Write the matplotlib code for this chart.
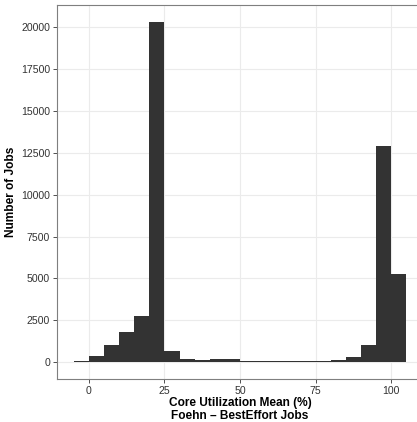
import numpy as np
import matplotlib
matplotlib.use("Agg")
import matplotlib.pyplot as plt

plt.rcParams['font.family'] = ['Liberation Sans', 'DejaVu Sans']

# histogram bins (left edges, width 5) and job counts
bin_left = [-5, 0, 5, 10, 15, 20, 25, 30, 35, 40, 45, 50,
            55, 60, 65, 70, 75, 80, 85, 90, 95, 100]
counts = [30, 360, 1020, 1810, 2760, 20350, 680, 180, 120, 170, 170, 80,
          70, 70, 70, 70, 70, 120, 300, 1020, 12900, 5270]
bin_width = 5

x_ticks = [0, 25, 50, 75, 100]
y_ticks = [0, 2500, 5000, 7500, 10000, 12500, 15000, 17500, 20000]

fig = plt.figure(figsize=(4.17, 4.22), dpi=100)
ax = fig.add_axes([57 / 417, 1 - 379 / 422, (423 - 57) / 417, (379 - 4.5) / 422])

ax.bar(bin_left, counts, width=bin_width, align='edge', color='#333333',
       linewidth=0, zorder=2)

ax.set_xlim(-10.5, 110.5)
ax.set_ylim(-1017, 21367)
ax.set_xticks(x_ticks)
ax.set_yticks(y_ticks)
ax.grid(True, color='#EBEBEB', linewidth=0.8, zorder=0)
ax.set_axisbelow(True)

for s in ax.spines.values():
    s.set_color('#7F7F7F')
    s.set_linewidth(0.8)

ax.tick_params(axis='both', labelsize=7.6, labelcolor='#333333', color='#333333',
               length=3, width=0.6, pad=2)

ax.set_xlabel('Core Utilization Mean (%)\nFoehn – BestEffort Jobs',
              fontsize=8.6, fontweight='bold', labelpad=0.5, linespacing=1.12)
ax.set_ylabel('Number of Jobs', fontsize=8.6, fontweight='bold')
ax.yaxis.set_label_coords(-0.108, 0.5)

fig.savefig('out.png', dpi=100)
